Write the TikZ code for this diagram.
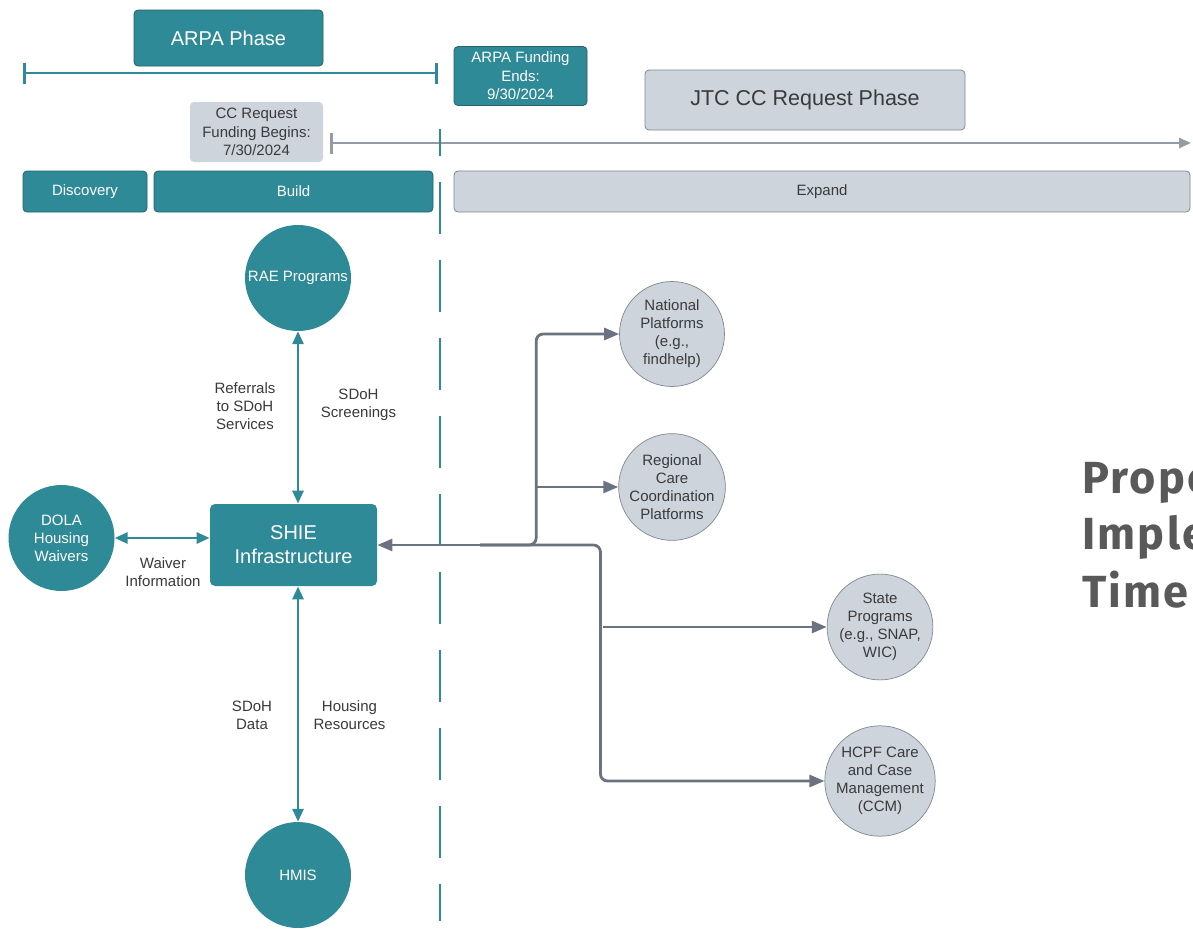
\documentclass[tikz,border=0pt]{standalone}
\usepackage{fontspec}
\setmainfont{Liberation Sans}
\newfontfamily\titlefont{Fira Sans}[LetterSpace=5]
\usetikzlibrary{arrows.meta}
\definecolor{teal1}{HTML}{2E8A96}
\definecolor{tealdark}{HTML}{27616A}
\definecolor{graybox}{HTML}{CED4DC}
\definecolor{grayedge}{HTML}{80878F}
\definecolor{glinec}{HTML}{6B7280}
\definecolor{tlinec}{HTML}{949BA4}
\definecolor{txt}{HTML}{3A3A3A}
\definecolor{titlegray}{HTML}{595959}
\begin{document}
\begin{tikzpicture}[x=1pt,y=-1pt,
 tealbox/.style={draw=tealdark, line width=0.8pt, fill=teal1, rounded corners=4pt, text=white, inner sep=0pt, align=center},
 graybx/.style={draw=grayedge, line width=0.8pt, fill=graybox, rounded corners=4pt, text=txt, inner sep=0pt, align=center},
 tealcirc/.style={circle, fill=teal1, text=white, minimum size=106pt, inner sep=0pt, align=center, font=\fontsize{15}{18}\selectfont},
 graycirc/.style={circle, draw=grayedge, line width=0.7pt, fill=graybox, text=txt, minimum size=105pt, inner sep=0pt, align=center, font=\fontsize{15}{18}\selectfont},
 lbl/.style={text=txt, align=center, font=\fontsize{15}{18}\selectfont},
 small/.style={font=\fontsize{15}{18.5}\selectfont},
 tarrow/.style={draw=teal1, line width=2.8pt, {Triangle[length=13pt,width=11pt]}-{Triangle[length=13pt,width=11pt]}},
 garrow/.style={draw=glinec, line width=2.8pt, -{Triangle[length=15pt,width=12pt]}, rounded corners=7pt},
 titletxt/.style={anchor=base west, text=titlegray, inner sep=0pt, font=\titlefont\bfseries\fontsize{45}{57}\selectfont},
]
\useasboundingbox (0,0) rectangle (1193,929);
\clip (0,0) rectangle (1193,929);
\fill[white] (0,0) rectangle (1193,929);

% phase header boxes
\node[tealbox, minimum width=189pt, minimum height=56pt, font=\fontsize{20}{24}\selectfont] (arpa) at (228.5,38) {ARPA Phase};
\node[tealbox, minimum width=133pt, minimum height=59pt, small] (fundend) at (520.5,76) {ARPA Funding\\Ends:\\9/30/2024};
\node[graybx, draw=none, minimum width=133pt, minimum height=60pt, small] (ccreq) at (256.5,132) {CC Request\\Funding Begins:\\7/30/2024};
\node[graybx, minimum width=320pt, minimum height=60pt, font=\fontsize{21.5}{26}\selectfont] (jtc) at (805,100) {JTC CC Request Phase};

% timeline bars
\coordinate (ab1) at (23,73);
\coordinate (ab2) at (438,73);
\draw[teal1, line width=2.8pt, {Bar[width=21pt]}-{Bar[width=21pt]}] (ab1) -- (ab2);
\coordinate (cb1) at (330,143);
\coordinate (cb2) at (1191,143);
\draw[tlinec, line width=2.6pt, {Bar[width=21pt]}-{Triangle[length=12pt,width=10pt]}] (cb1) -- (cb2);

% stage boxes
\node[tealbox, minimum width=124pt, minimum height=41pt, small] (disc) at (85,191.5) {Discovery};
\node[tealbox, minimum width=279pt, minimum height=41pt, small] (build) at (293.5,191.5) {Build};
\node[graybx, minimum width=736pt, minimum height=41pt, small] (expand) at (822,191.5) {Expand};

% dashed divider
\coordinate (dv1) at (440,129);
\coordinate (dv2) at (440,921);
\draw[teal1, line width=2.8pt, dash pattern=on 52pt off 26pt, dash phase=25pt] (dv1) -- (dv2);

% main nodes
\node[tealcirc] (rae) at (298,278) {RAE Programs};
\node[tealbox, draw=none, rounded corners=5pt, minimum width=167pt, minimum height=82pt, font=\fontsize{20}{24}\selectfont] (shie) at (293.5,545) {SHIE\\Infrastructure};
\node[tealcirc] (dola) at (61.5,538) {DOLA\\Housing\\Waivers};
\node[tealcirc] (hmis) at (298,875) {HMIS};

\draw[tarrow] (rae.south) -- (rae.south |- shie.north);
\draw[tarrow] (hmis.north) -- (hmis.north |- shie.south);
\draw[tarrow] (dola.east) -- (dola.east -| shie.west);

\node[lbl] (l1) at (245,406) {Referrals\\to SDoH\\Services};
\node[lbl] (l2) at (358.5,405) {SDoH\\Screenings};
\node[lbl] (l3) at (163,572) {Waiver\\Information};
\node[lbl] (l4) at (252,715) {SDoH\\Data};
\node[lbl] (l5) at (349.5,715) {Housing\\Resources};

% right-side platforms
\node[graycirc] (nat) at (672,334) {National\\Platforms\\(e.g.,\\findhelp)};
\node[graycirc] (reg) at (672,487) {Regional\\Care\\Coordination\\Platforms};
\node[graycirc] (sta) at (880,627) {State\\Programs\\(e.g., SNAP,\\WIC)};
\node[graycirc] (hcpf) at (880,781) {HCPF Care\\and Case\\Management\\(CCM)};

\coordinate (hub) at (480,545);
\draw[garrow] (hub) -- (shie.east);
\draw[garrow] (hub) -| ([xshift=-83pt]nat.west) -- (nat.west);
\draw[garrow] ([xshift=-83pt]reg.west) -- (reg.west);
\draw[garrow] (hub) -| ([xshift=-224pt]hcpf.west) -- (hcpf.west);
\draw[garrow] ([xshift=-224pt]sta.west) -- (sta.west);

% title (cut by the right edge, as in the reference)
\node[titletxt] (t1) at (1082,493) {Proposed};
\node[titletxt] (t2) at (1082,549) {Implementation};
\node[titletxt] (t3) at (1082,607) {Timeline};
\end{tikzpicture}
\end{document}
